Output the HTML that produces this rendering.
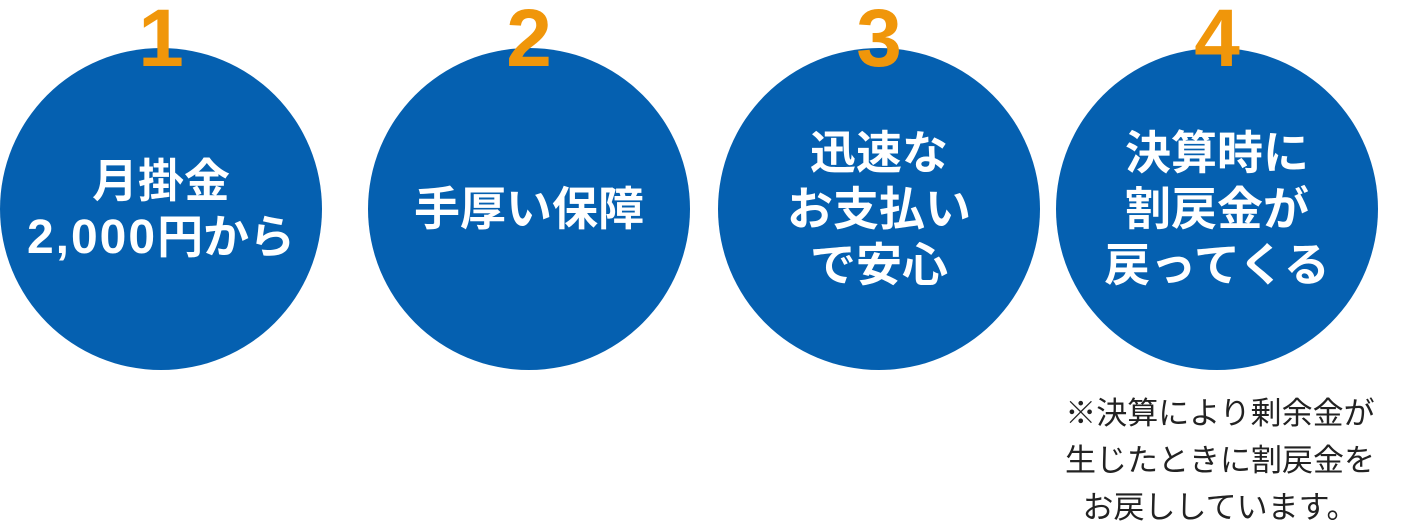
<!DOCTYPE html>
<html><head><meta charset="utf-8"><style>
html,body{margin:0;padding:0;background:#fff;}
body{width:1406px;height:522px;position:relative;overflow:hidden;font-family:"Liberation Sans","Noto Sans CJK JP",sans-serif;}
.c{position:absolute;top:48px;width:322px;height:322px;border-radius:50%;background:#0560b0;color:#fff;font-weight:bold;font-size:46px;line-height:56px;display:flex;align-items:center;justify-content:center;text-align:center;white-space:nowrap;}
.n{position:absolute;z-index:2;top:-2px;width:120px;text-align:center;color:#f0960a;font-weight:bold;font-size:82px;line-height:82px;}
.note{position:absolute;left:1020px;top:390px;width:400px;text-align:center;font-size:31px;line-height:47px;color:#222;}
.l{font-size:48px;letter-spacing:2px;}
</style></head><body>
<div class="n" style="left:101px">1</div>
<div class="n" style="left:469px">2</div>
<div class="n" style="left:819px">3</div>
<div class="n" style="left:1157px">4</div>
<div class="c" style="left:0"><div>月掛金<br><span class="l">2,000</span>円から</div></div>
<div class="c" style="left:368px"><div>手厚い保障</div></div>
<div class="c" style="left:718px"><div>迅速な<br>お支払い<br>で安心</div></div>
<div class="c" style="left:1056px"><div>決算時に<br>割戻金が<br>戻ってくる</div></div>
<div class="note">※決算により剰余金が<br>生じたときに割戻金を<br>お戻ししています。</div>
</body></html>
